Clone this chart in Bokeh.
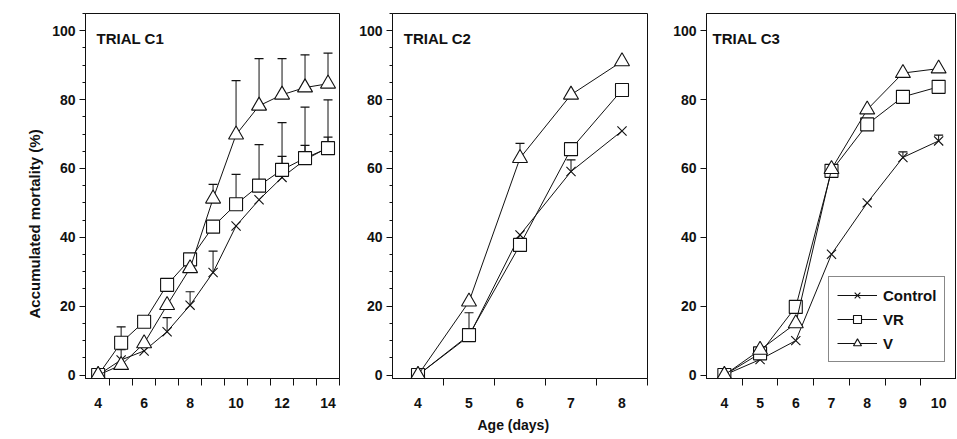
from bokeh.plotting import figure
from bokeh.layouts import row
from bokeh.models import (Range1d, FixedTicker, SingleIntervalTicker, Whisker, TeeHead,
                          ColumnDataSource, Label, Legend, LegendItem, Title)
from bokeh.embed import file_html
from bokeh.resources import INLINE

# ---------------- data ----------------
series_names = ["Control", "VR", "V"]

c1_days = [4, 5, 6, 7, 8, 9, 10, 11, 12, 13, 14]
c1_control = [0, 4.4, 7.0, 12.6, 20.3, 29.8, 43.3, 50.9, 57.4, 62.5, 66.1]
c1_vr = [0, 9.4, 15.5, 26.2, 33.6, 43.1, 49.6, 55.0, 59.6, 63.0, 65.9]
c1_v = [0, 2.9, 9.2, 20.3, 31.0, 51.2, 69.8, 78.2, 81.4, 83.5, 84.6]
c1_control_err = [0, 3.0, 0, 4.1, 3.9, 6.2, 0, 0, 6.1, 4.2, 3.0]
c1_vr_err = [0, 4.6, 0, 0, 0, 0, 8.7, 11.9, 13.7, 14.8, 14.0]
c1_v_err = [0, 0, 0, 0, 0, 4.2, 15.7, 13.7, 10.5, 9.5, 8.9]
c1_tick_labels = [4, 6, 8, 10, 12, 14]

c2_days = [4, 5, 6, 7, 8]
c2_control = [0, 11.3, 40.7, 59.1, 70.9]
c2_vr = [0, 11.6, 37.8, 65.6, 82.8]
c2_v = [0, 21.3, 63.0, 81.4, 91.1]
c2_control_err = [0, 0, 0, 3.4, 0]
c2_vr_err = [0, 6.5, 0, 0, 0]
c2_v_err = [0, 0, 4.3, 0, 0]
c2_tick_labels = [4, 5, 6, 7, 8]

c3_days = [4, 5, 6, 7, 8, 9, 10]
c3_control = [0, 4.5, 10.0, 35.1, 50.0, 63.2, 68.0]
c3_vr = [0, 6.3, 19.8, 59.3, 72.8, 80.8, 83.7]
c3_v = [0, 7.3, 15.0, 59.8, 77.1, 87.7, 89.0]
c3_control_err = [0, 0, 0, 0, 0, 1.6, 1.7]
c3_vr_err = [0, 0, 0, 0, 0, 0, 0]
c3_v_err = [0, 0, 0, 0, 0, 0, 0]
c3_tick_labels = [4, 5, 6, 7, 8, 9, 10]

y_label_text = "Accumulated mortality (%)"
x_label_text = "Age (days)"

FONT = "Liberation Sans"
INK = "#111111"
MARKERS = {"Control": ("x", 13), "VR": ("square", 13), "V": ("triangle", 15)}
Y0, Y1 = -1, 105
H = 438


def make_panel(days, vals, errs, x_range, tick_labels, y_minor, title,
               width, border_l, border_r, legend=False):
    p = figure(width=width, height=H,
               x_range=Range1d(*x_range), y_range=Range1d(Y0, Y1),
               output_backend="svg", toolbar_location=None,
               min_border_left=border_l, min_border_right=border_r,
               min_border_top=13, min_border_bottom=H - 13 - 365)
    p.xgrid.visible = False
    p.ygrid.visible = False
    p.outline_line_color = INK
    p.outline_line_alpha = 1
    p.background_fill_color = "white"
    p.border_fill_color = "white"

    minor = [t + 0.5 for t in range(int(days[0]), int(days[-1]) + 1)]
    p.xaxis.ticker = FixedTicker(ticks=tick_labels, minor_ticks=minor)
    p.yaxis.ticker = SingleIntervalTicker(interval=20, num_minor_ticks=y_minor)
    for ax in (p.xaxis[0], p.yaxis[0]):
        ax.axis_line_color = INK
        ax.major_tick_line_color = INK
        ax.minor_tick_line_color = INK
        ax.minor_tick_line_width = 1
        ax.major_label_text_font = FONT
        ax.major_label_text_font_style = "bold"
        ax.major_label_text_font_size = "14px"
        ax.major_label_text_color = INK
    p.xaxis.major_tick_out = 0
    p.xaxis.major_tick_in = 0
    p.xaxis.minor_tick_out = 7
    p.xaxis.minor_tick_in = 0
    p.xaxis.major_label_standoff = 12
    p.yaxis.major_tick_out = 6
    p.yaxis.major_tick_in = 0
    p.yaxis.minor_tick_out = 3
    p.yaxis.minor_tick_in = 0
    p.yaxis.major_label_standoff = 4

    items = []
    for name, y, e in zip(series_names, vals, errs):
        ex = [d for d, v in zip(days, e) if v > 0]
        elo = [yy for yy, v in zip(y, e) if v > 0]
        ehi = [yy + v for yy, v in zip(y, e) if v > 0]
        if ex:
            src = ColumnDataSource(dict(x=ex, lo=elo, hi=ehi))
            w = Whisker(source=src, base="x", lower="lo", upper="hi",
                        line_color=INK, line_width=1, level="underlay",
                        lower_head=None,
                        upper_head=TeeHead(size=9, line_color=INK, line_width=1.2))
            p.add_layout(w)
        lr = p.line(days, y, line_color=INK, line_width=1)
        mk, sz = MARKERS[name]
        sr = p.scatter(days, y, marker=mk, size=sz, line_color=INK, line_width=1.1,
                       fill_color="white")
        items.append(LegendItem(label=name, renderers=[lr, sr]))

    p.add_layout(Label(x=x_range[0] + title[1], y=95.3, text=title[0],
                       text_font=FONT, text_font_style="bold",
                       text_font_size="15px", text_color=INK))

    if legend:
        lg = Legend(items=items, location=(122, 16), orientation="vertical",
                    border_line_color=INK, border_line_width=1,
                    background_fill_color="white", background_fill_alpha=1,
                    glyph_width=40, glyph_height=20, label_standoff=6,
                    padding=8, spacing=4, margin=0,
                    label_text_font=FONT, label_text_font_style="bold",
                    label_text_font_size="15px", label_text_color=INK)
        p.add_layout(lg)
    return p


p1 = make_panel(c1_days, [c1_control, c1_vr, c1_v],
                [c1_control_err, c1_vr_err, c1_v_err],
                (3.45, 14.5), c1_tick_labels, 4, ("TRIAL C1", 0.48),
                348, 85, 9)
p2 = make_panel(c2_days, [c2_control, c2_vr, c2_v],
                [c2_control_err, c2_vr_err, c2_v_err],
                (3.5, 8.5), c2_tick_labels, 4, ("TRIAL C2", 0.22),
                312, 44, 13)
p3 = make_panel(c3_days, [c3_control, c3_vr, c3_v],
                [c3_control_err, c3_vr_err, c3_v_err],
                (3.5, 10.5), c3_tick_labels, 1, ("TRIAL C3", 0.17),
                296, 46, 0, legend=True)

# axis titles
p1.add_layout(Title(text=y_label_text, align="left", offset=60, standoff=14,
                    text_font=FONT, text_font_style="bold", text_font_size="15px",
                    text_color=INK), "left")
p2.add_layout(Title(text=x_label_text, align="left", offset=85, standoff=9,
                    text_font=FONT, text_font_style="bold", text_font_size="14px",
                    text_color=INK), "below")

layout = row(p1, p2, p3, spacing=0)
open("out.html", "w").write(file_html(layout, INLINE))
